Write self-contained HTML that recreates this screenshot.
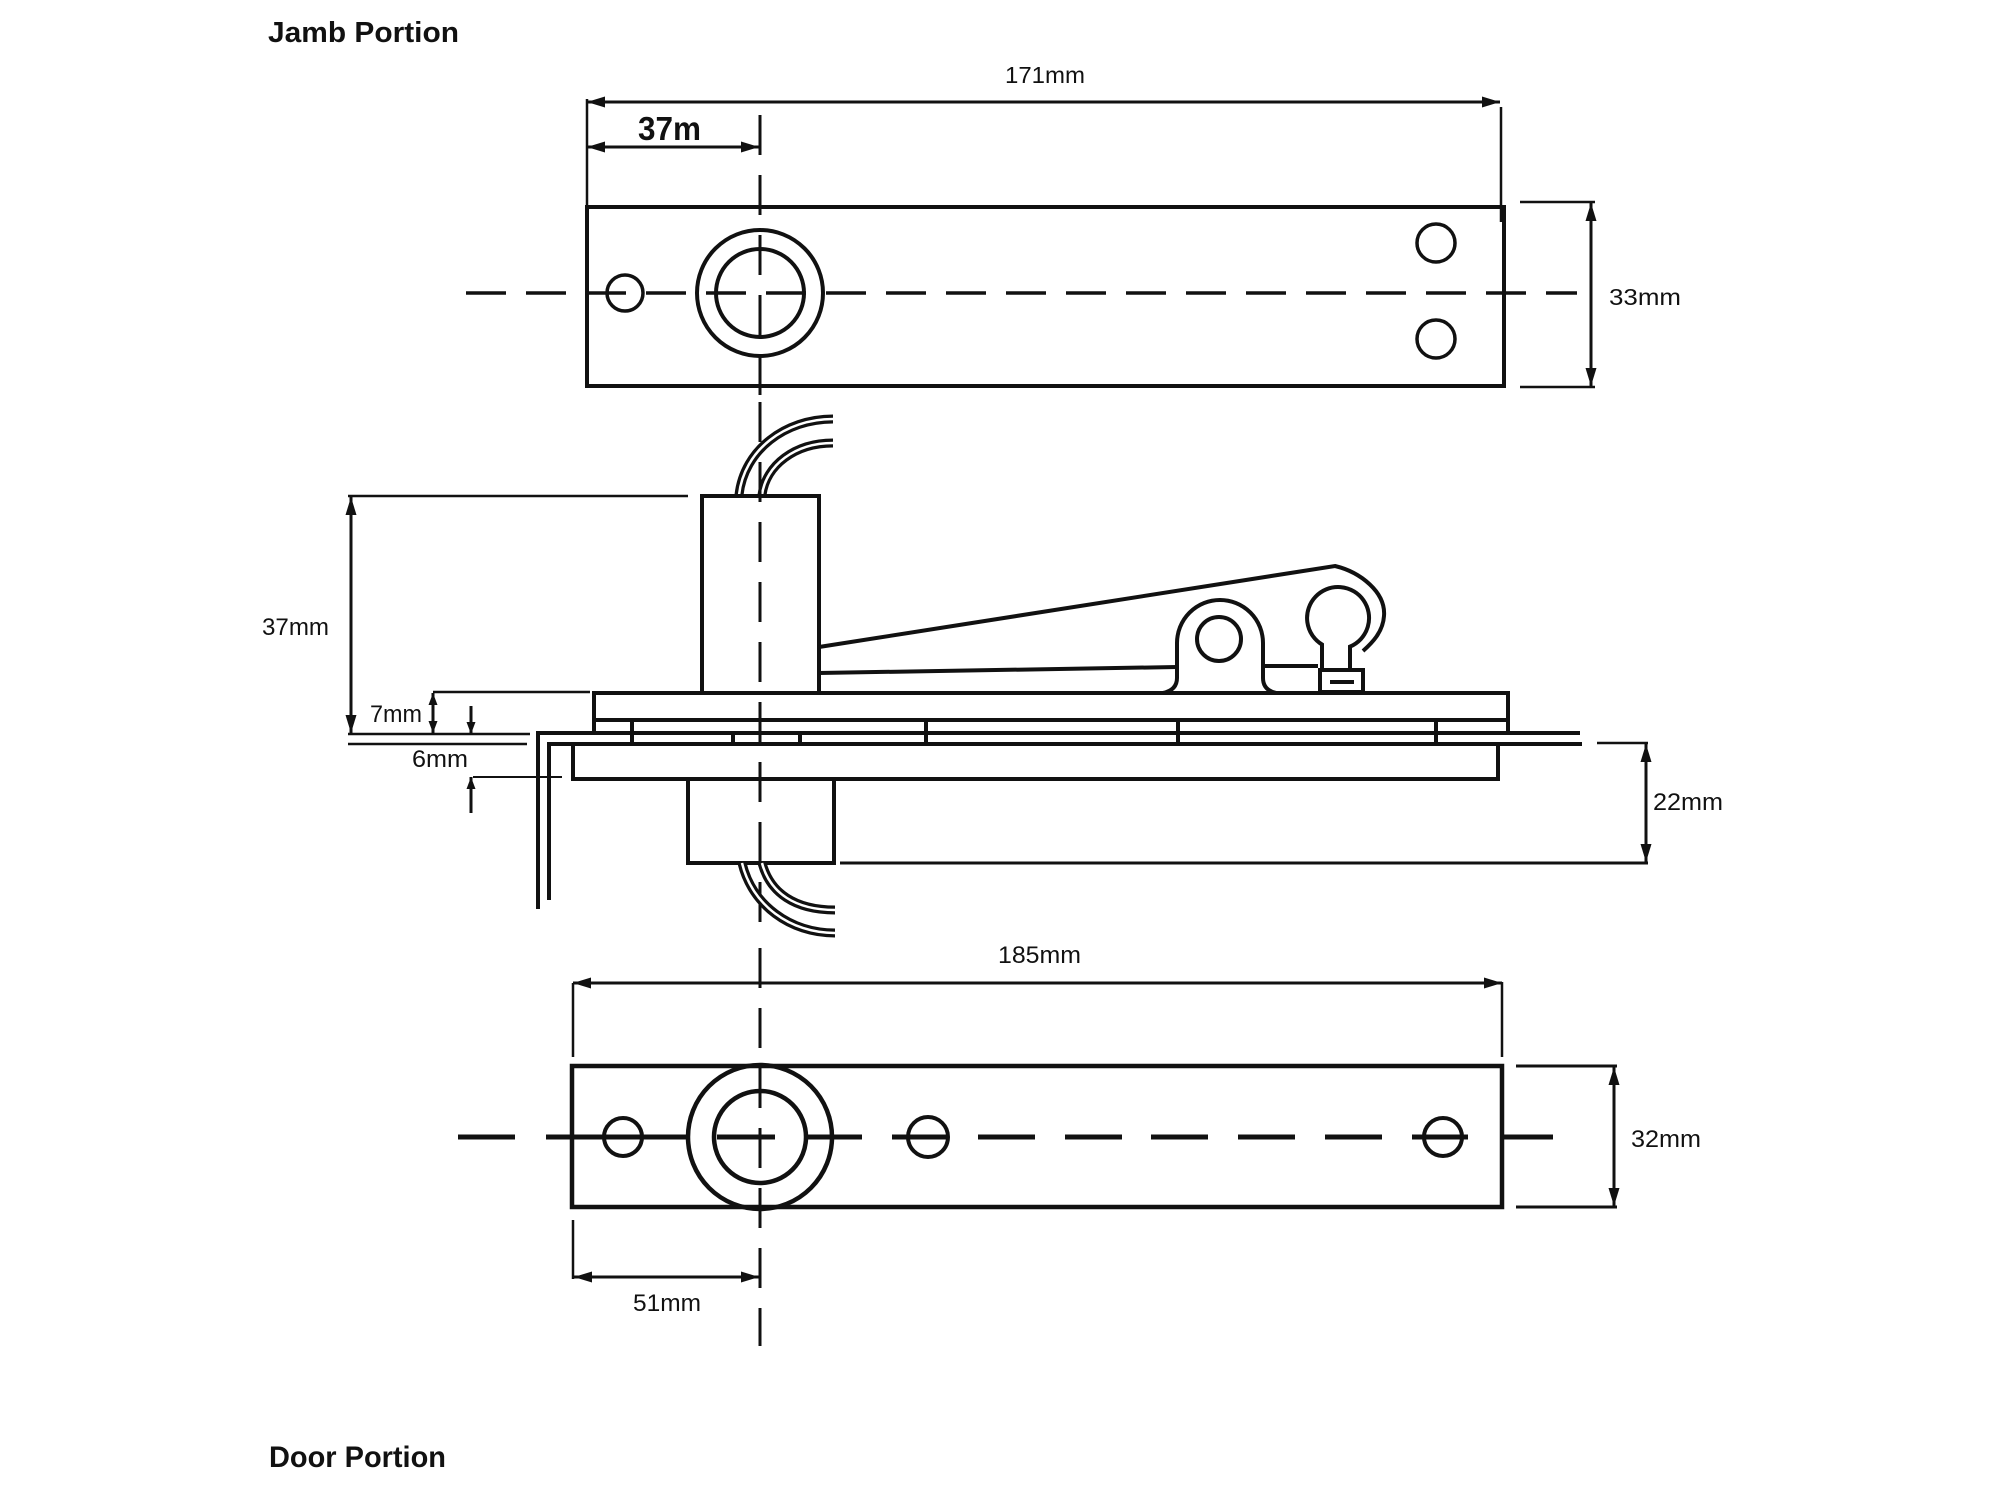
<!DOCTYPE html>
<html>
<head>
<meta charset="utf-8">
<style>
  html, body { margin: 0; padding: 0; background: #ffffff; }
  svg { display: block; }
  text { font-family: "Liberation Sans", "DejaVu Sans", sans-serif; fill: #111; }
</style>
</head>
<body>
<svg width="2000" height="1500" viewBox="0 0 2000 1500" xmlns="http://www.w3.org/2000/svg">
  <defs>
    <marker id="ar" viewBox="0 0 18 11" refX="18" refY="5.5" markerWidth="18" markerHeight="11" markerUnits="userSpaceOnUse" orient="auto-start-reverse">
      <path d="M0,0 L18,5.5 L0,11 z" fill="#111"/>
    </marker>
    <marker id="as" viewBox="0 0 12 9" refX="12" refY="4.5" markerWidth="12" markerHeight="9" markerUnits="userSpaceOnUse" orient="auto-start-reverse">
      <path d="M0,0 L12,4.5 L0,9 z" fill="#111"/>
    </marker>
  </defs>

  <rect x="0" y="0" width="2000" height="1500" fill="#fff"/>

  <!-- Titles -->
  <text x="268" y="42" font-size="29" font-weight="bold" textLength="191" lengthAdjust="spacingAndGlyphs">Jamb Portion</text>
  <text x="269" y="1467" font-size="30" font-weight="bold" textLength="177" lengthAdjust="spacingAndGlyphs">Door Portion</text>

  <g fill="none" stroke="#111" stroke-linecap="butt">
    <!-- ================= TOP (Jamb) ================= -->
    <rect x="587" y="207" width="917" height="179" stroke-width="4"/>
    <circle cx="625" cy="293" r="18" stroke-width="3.5"/>
    <circle cx="1436" cy="243" r="19" stroke-width="3.5"/>
    <circle cx="1436" cy="339" r="19" stroke-width="3.5"/>
    <circle cx="760" cy="293" r="63" stroke-width="4"/>
    <circle cx="760" cy="293" r="44" stroke-width="4"/>
    <line x1="466" y1="293" x2="1577" y2="293" stroke-width="3.5" stroke-dasharray="40 20"/>

    <!-- extension lines -->
    <line x1="587" y1="99" x2="587" y2="207" stroke-width="2.5"/>
    <line x1="1501" y1="107" x2="1501" y2="222" stroke-width="2.5"/>
    <!-- 171mm -->
    <line x1="587" y1="102" x2="1500" y2="102" stroke-width="3" marker-start="url(#ar)" marker-end="url(#ar)"/>
    <!-- 37m -->
    <line x1="587" y1="147" x2="759" y2="147" stroke-width="3" marker-start="url(#ar)" marker-end="url(#ar)"/>
    <!-- 33mm -->
    <line x1="1520" y1="202" x2="1595" y2="202" stroke-width="2.5"/>
    <line x1="1520" y1="387" x2="1595" y2="387" stroke-width="2.5"/>
    <line x1="1591" y1="203" x2="1591" y2="386" stroke-width="3" marker-start="url(#ar)" marker-end="url(#ar)"/>

    <!-- vertical centerline -->
    <line x1="760" y1="115" x2="760" y2="410" stroke-width="3" stroke-dasharray="40 20"/>

    <!-- ================= MIDDLE (side view) ================= -->
    <!-- wires above -->
    <path d="M739,495 C744,450 785,419 833,419" stroke-width="9"/>
    <path d="M739,495 C744,450 785,419 833,419" stroke="#fff" stroke-width="2.5"/>
    <path d="M762,495 C766,465 795,443 833,443" stroke-width="9"/>
    <path d="M762,495 C766,465 795,443 833,443" stroke="#fff" stroke-width="2.5"/>

    <!-- upper block -->
    <rect x="702" y="496" width="117" height="197" stroke-width="4" fill="#fff"/>
    <line x1="760" y1="402" x2="760" y2="942" stroke-width="3" stroke-dasharray="40 20"/>

    <!-- 37mm dim -->
    <line x1="348" y1="496" x2="688" y2="496" stroke-width="2.5"/>
    <line x1="351" y1="497" x2="351" y2="733" stroke-width="3" marker-start="url(#ar)" marker-end="url(#ar)"/>
    <line x1="348" y1="734" x2="530" y2="734" stroke-width="2.5"/>
    <line x1="348" y1="744" x2="527" y2="744" stroke-width="2.5"/>
    <!-- 7mm dim -->
    <line x1="433" y1="692" x2="590" y2="692" stroke-width="2.5"/>
    <line x1="433" y1="693" x2="433" y2="733" stroke-width="3" marker-start="url(#as)" marker-end="url(#as)"/>
    <!-- 6mm arrows -->
    <line x1="471" y1="706" x2="471" y2="734" stroke-width="3" marker-end="url(#as)"/>
    <line x1="471" y1="813" x2="471" y2="777" stroke-width="3" marker-end="url(#as)"/>
    <line x1="473" y1="777" x2="562" y2="777" stroke-width="2"/>

    <!-- bracket L lines -->
    <path d="M538,909 L538,733 L1580,733" stroke-width="4"/>
    <path d="M549,900 L549,744 L1582,744" stroke-width="4"/>

    <!-- plate top -->
    <path d="M594,733 L594,693 L1508,693 L1508,733" stroke-width="4"/>
    <line x1="594" y1="720" x2="1508" y2="720" stroke-width="4"/>
    <!-- ticks -->
    <line x1="632" y1="720" x2="632" y2="744" stroke-width="4"/>
    <line x1="926" y1="720" x2="926" y2="744" stroke-width="4"/>
    <line x1="1178" y1="720" x2="1178" y2="744" stroke-width="4"/>
    <line x1="1436" y1="720" x2="1436" y2="744" stroke-width="4"/>
    <line x1="733" y1="733" x2="733" y2="744" stroke-width="4"/>
    <line x1="800" y1="733" x2="800" y2="744" stroke-width="4"/>

    <!-- lower plate -->
    <path d="M573,744 L573,779 L1498,779 L1498,744" stroke-width="4"/>
    <!-- lower block -->
    <rect x="688" y="779" width="146" height="84" stroke-width="4"/>

    <!-- wires below -->
    <path d="M742,863 C752,905 790,933 835,933" stroke-width="9"/>
    <path d="M742,863 C752,905 790,933 835,933" stroke="#fff" stroke-width="2.5"/>
    <path d="M762,863 C770,893 795,910 835,910" stroke-width="9"/>
    <path d="M762,863 C770,893 795,910 835,910" stroke="#fff" stroke-width="2.5"/>
    <line x1="760" y1="948" x2="760" y2="1346" stroke-width="3" stroke-dasharray="40 20"/>

    <!-- 22mm dim -->
    <line x1="840" y1="863" x2="1648" y2="863" stroke-width="3"/>
    <line x1="1597" y1="743" x2="1648" y2="743" stroke-width="2.5"/>
    <line x1="1646" y1="744" x2="1646" y2="862" stroke-width="3" marker-start="url(#ar)" marker-end="url(#ar)"/>

    <!-- lever -->
    <path d="M819,647 L1335,566 C1360,572 1386,592 1384,616 C1383,632 1372,643 1363,651" stroke-width="4"/>
    <path d="M819,673 L1177,667" stroke-width="4"/>
    <path d="M1263,666 L1318,666" stroke-width="4"/>
    <!-- lug -->
    <path d="M1163,693 Q1177,690 1177,678 L1177,643 A43,43 0 0 1 1263,643 L1263,678 Q1263,690 1276,693" stroke-width="4"/>
    <circle cx="1219" cy="639" r="22" stroke-width="4"/>
    <!-- ball & stem -->
    <path d="M1322,670 L1322,644.5 A31,31 0 1 1 1350,646.6 L1350,670" stroke-width="4"/>
    <rect x="1320" y="670" width="43" height="22" stroke-width="4"/>
    <line x1="1330" y1="682" x2="1354" y2="682" stroke-width="4"/>

    <!-- ================= BOTTOM (Door) ================= -->
    <rect x="572" y="1066" width="930" height="141" stroke-width="4.5"/>
    <circle cx="623" cy="1137" r="19" stroke-width="4"/>
    <circle cx="928" cy="1137" r="20" stroke-width="4"/>
    <circle cx="1443" cy="1137" r="19" stroke-width="4"/>
    <circle cx="760" cy="1137" r="72" stroke-width="4.5"/>
    <circle cx="760" cy="1137" r="46" stroke-width="4.5"/>
    <g stroke-width="5">
      <line x1="458" y1="1137" x2="515" y2="1137"/>
      <line x1="546" y1="1137" x2="688" y2="1137"/>
      <line x1="717" y1="1137" x2="775" y2="1137"/>
      <line x1="806" y1="1137" x2="862" y2="1137"/>
      <line x1="892" y1="1137" x2="948" y2="1137"/>
      <line x1="978" y1="1137" x2="1035" y2="1137"/>
      <line x1="1065" y1="1137" x2="1122" y2="1137"/>
      <line x1="1151" y1="1137" x2="1208" y2="1137"/>
      <line x1="1238" y1="1137" x2="1295" y2="1137"/>
      <line x1="1325" y1="1137" x2="1382" y2="1137"/>
      <line x1="1412" y1="1137" x2="1468" y2="1137"/>
      <line x1="1500" y1="1137" x2="1553" y2="1137"/>
    </g>

    <!-- 185mm -->
    <line x1="573" y1="983" x2="1502" y2="983" stroke-width="3" marker-start="url(#ar)" marker-end="url(#ar)"/>
    <line x1="573" y1="983" x2="573" y2="1057" stroke-width="2.5"/>
    <line x1="1502" y1="982" x2="1502" y2="1057" stroke-width="2.5"/>
    <!-- 32mm -->
    <line x1="1516" y1="1066" x2="1617" y2="1066" stroke-width="3"/>
    <line x1="1516" y1="1207" x2="1617" y2="1207" stroke-width="3"/>
    <line x1="1614" y1="1067" x2="1614" y2="1206" stroke-width="3" marker-start="url(#ar)" marker-end="url(#ar)"/>
    <!-- 51mm -->
    <line x1="573" y1="1220" x2="573" y2="1279" stroke-width="2.5"/>
    <line x1="574" y1="1277" x2="759" y2="1277" stroke-width="3" marker-start="url(#ar)" marker-end="url(#ar)"/>
  </g>

  <!-- Dimension labels -->
  <text x="638" y="140" font-size="33" font-weight="bold" textLength="63" lengthAdjust="spacingAndGlyphs">37m</text>
  <text x="1005" y="83" font-size="23" textLength="80" lengthAdjust="spacingAndGlyphs">171mm</text>
  <text x="1609" y="305" font-size="23" textLength="72" lengthAdjust="spacingAndGlyphs">33mm</text>
  <text x="262" y="635" font-size="24" textLength="67" lengthAdjust="spacingAndGlyphs">37mm</text>
  <text x="370" y="722" font-size="24" textLength="52" lengthAdjust="spacingAndGlyphs">7mm</text>
  <text x="412" y="767" font-size="24" textLength="56" lengthAdjust="spacingAndGlyphs">6mm</text>
  <text x="1653" y="810" font-size="24" textLength="70" lengthAdjust="spacingAndGlyphs">22mm</text>
  <text x="998" y="963" font-size="24" textLength="83" lengthAdjust="spacingAndGlyphs">185mm</text>
  <text x="1631" y="1147" font-size="24" textLength="70" lengthAdjust="spacingAndGlyphs">32mm</text>
  <text x="633" y="1311" font-size="24" textLength="68" lengthAdjust="spacingAndGlyphs">51mm</text>
</svg>
</body>
</html>
